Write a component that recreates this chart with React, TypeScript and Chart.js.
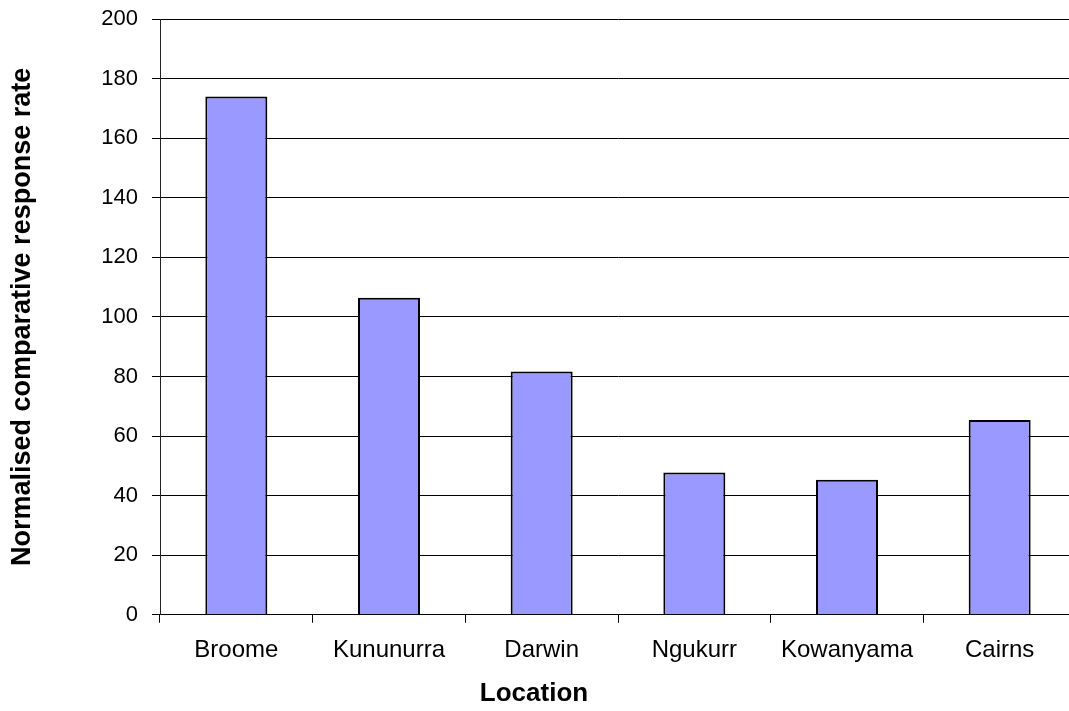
import { useEffect, useRef } from "react";
import { Chart, registerables } from "chart.js";

Chart.register(...registerables);

const categories = ["Broome", "Kununurra", "Darwin", "Ngukurr", "Kowanyama", "Cairns"];
const responseRates = [174, 106.4, 81.7, 47.8, 45.3, 65.4];
const yMin = 0;
const yMax = 200;
const yStep = 20;
const yTitle = "Normalised comparative response rate";
const xTitle = "Location";

const FAMILY = "'Liberation Sans', Arial, sans-serif";

export default function App() {
  const ref = useRef<HTMLCanvasElement>(null);

  useEffect(() => {
    const canvas = ref.current;
    if (!canvas) return;
    const chart = new Chart(canvas, {
      type: "bar",
      data: {
        labels: categories,
        datasets: [
          {
            data: responseRates,
            backgroundColor: "#9999FF",
            borderColor: "#000000",
            borderWidth: 2,
            barPercentage: 0.406,
            categoryPercentage: 1,
          },
        ],
      },
      options: {
        responsive: false,
        animation: false,
        devicePixelRatio: 1,
        layout: { padding: { left: 0, top: 19, right: 0, bottom: 0 } },
        plugins: {
          legend: { display: false },
          tooltip: { enabled: false },
          title: {
            display: true,
            position: "bottom",
            fullSize: true,
            text: xTitle,
            color: "#000000",
            font: { family: FAMILY, size: 26, weight: "bold" },
            padding: { top: 13, bottom: 2 },
          },
        },
        scales: {
          x: {
            grid: {
              display: true,
              drawOnChartArea: false,
              drawTicks: true,
              tickLength: 8,
              color: "#000000",
              offset: true,
            },
            border: { color: "#000000", width: 1 },
            ticks: {
              color: "#000000",
              font: { family: FAMILY, size: 24 },
              padding: 13,
              maxRotation: 0,
              autoSkip: false,
            },
            afterFit: (scale: any) => {
              scale.height = 50;
            },
          },
          y: {
            min: yMin,
            max: yMax,
            ticks: {
              stepSize: yStep,
              color: "#000000",
              font: { family: FAMILY, size: 22 },
              padding: 14,
            },
            grid: { color: "#000000", tickLength: 8 },
            border: { color: "#222222", width: 1 },
            title: {
              display: true,
              text: yTitle,
              color: "#000000",
              font: { family: FAMILY, size: 27, weight: "bold" },
              padding: { top: 14, bottom: 0 },
            },
            afterFit: (scale: any) => {
              scale.width = 168;
              scale.paddingTop = 0;
              scale.paddingBottom = 0;
            },
          },
        },
      },
    });
    return () => chart.destroy();
  }, []);

  return (
    <div
      style={{
        position: "fixed",
        left: 0,
        top: 0,
        width: 1069,
        height: 711,
        overflow: "hidden",
        background: "#ffffff",
      }}
    >
      <canvas
        ref={ref}
        width={1084}
        height={711}
        style={{ position: "absolute", left: -8, top: 0, width: 1084, height: 711 }}
      />
    </div>
  );
}
